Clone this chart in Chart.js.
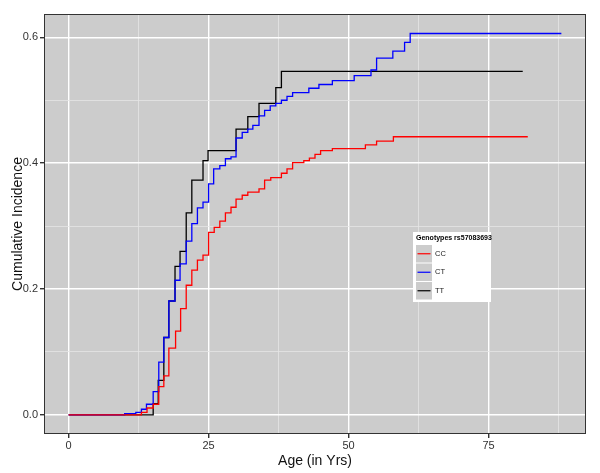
<!DOCTYPE html>
<html>
<head>
<meta charset="utf-8">
<script src="https://cdn.jsdelivr.net/npm/chart.js@4/dist/chart.umd.min.js"></script>
<style>
html, body { margin: 0; padding: 0; background: #fff; }
</style>
</head>
<body>
<canvas id="myChart" width="600" height="473"></canvas>
<script>
'use strict';

// Cumulative incidence by genotype (age, value after the step)
const ccAge = [0, 13.0, 14.0, 15.1, 16.1, 17.0, 17.9, 19.1, 20.0, 21.0, 22.0, 23.0, 24.0, 25.0, 26.0, 27.0, 28.0, 29.0, 29.9, 31.0, 32.0, 34.0, 35.0, 36.1, 38.0, 39.0, 40.0, 42.0, 43.0, 44.0, 45.0, 47.1, 53.0, 55.0, 58.0, 82.0];
const ccInc = [0, 0.004, 0.011, 0.017, 0.045, 0.062, 0.106, 0.133, 0.169, 0.206, 0.230, 0.246, 0.254, 0.290, 0.298, 0.308, 0.321, 0.330, 0.343, 0.349, 0.354, 0.359, 0.373, 0.377, 0.384, 0.391, 0.401, 0.404, 0.408, 0.414, 0.420, 0.423, 0.429, 0.435, 0.442, 0.442];

const ctAge = [0, 10.0, 12.0, 13.0, 13.9, 15.1, 16.1, 17.0, 17.9, 19.0, 19.9, 21.0, 22.0, 23.0, 24.0, 25.0, 25.9, 27.0, 28.0, 29.0, 29.9, 31.0, 32.0, 32.9, 34.0, 35.0, 36.0, 37.0, 38.0, 39.0, 40.0, 42.9, 44.7, 47.1, 51.0, 54.0, 55.0, 57.9, 60.0, 61.0, 88.0];
const ctInc = [0, 0.002, 0.004, 0.009, 0.017, 0.037, 0.084, 0.123, 0.181, 0.214, 0.240, 0.276, 0.304, 0.329, 0.338, 0.367, 0.391, 0.396, 0.407, 0.410, 0.440, 0.449, 0.454, 0.460, 0.475, 0.484, 0.491, 0.495, 0.500, 0.506, 0.512, 0.519, 0.525, 0.531, 0.539, 0.548, 0.567, 0.578, 0.592, 0.606, 0.606];

const ttAge = [0, 15.1, 16.0, 17.0, 17.9, 19.0, 19.9, 21.0, 22.0, 24.0, 24.9, 29.9, 32.0, 34.0, 37.0, 38.0, 81.1];
const ttInc = [0, 0.018, 0.055, 0.123, 0.181, 0.236, 0.260, 0.321, 0.373, 0.404, 0.420, 0.454, 0.474, 0.495, 0.520, 0.546, 0.546];

const genotypes = ['CC', 'CT', 'TT'];
const lineColors = ['#ff0000', '#0000ff', '#000000'];
const legendTitle = 'Genotypes rs57083693';

const xTicks = [0, 12.5, 25, 37.5, 50, 62.5, 75, 87.5];
const xLabels = [0, 25, 50, 75];
const yTicks = [0, 0.1, 0.2, 0.3, 0.4, 0.5, 0.6];
const yLabels = [0, 0.2, 0.4, 0.6];

function toPoints(ages, vals) {
  return ages.map((a, i) => ({ x: a, y: vals[i] }));
}

const series = [toPoints(ccAge, ccInc), toPoints(ctAge, ctInc), toPoints(ttAge, ttInc)];

const isMajorX = (v) => xLabels.includes(v);
const isMajorY = (v) => yLabels.some((l) => Math.abs(l - v) < 1e-6);

const font = '"Liberation Sans", Arial, sans-serif';

const panelBg = {
  id: 'panelBg',
  beforeDraw(chart) {
    const a = chart.chartArea;
    const ctx = chart.ctx;
    ctx.save();
    ctx.fillStyle = '#cccccc';
    ctx.fillRect(a.left, a.top, a.right - a.left, a.bottom - a.top);
    ctx.restore();
  },
  afterDatasetsDraw(chart) {
    const a = chart.chartArea;
    const ctx = chart.ctx;
    ctx.save();
    ctx.strokeStyle = '#333333';
    ctx.lineWidth = 1;
    ctx.strokeRect(a.left + 0.5, a.top + 0.5, a.right - a.left - 1, a.bottom - a.top - 1);
    ctx.restore();
  }
};

// ggplot style legend sitting inside the panel
const legendBox = {
  id: 'legendBox',
  afterDraw(chart) {
    const ctx = chart.ctx;
    ctx.save();
    ctx.fillStyle = '#ffffff';
    ctx.fillRect(413, 232, 78, 70);
    ctx.textBaseline = 'middle';
    ctx.textAlign = 'left';
    ctx.fillStyle = '#000000';
    ctx.font = 'bold 7px ' + font;
    ctx.fillText(legendTitle, 416, 238.5);
    chart.data.datasets.forEach((ds, i) => {
      let y = 245 + i * 18.5;
      ctx.fillStyle = '#cccccc';
      ctx.fillRect(416, y, 16, 17.5);
      ctx.strokeStyle = ds.borderColor;
      ctx.lineWidth = 1.2;
      ctx.beginPath();
      ctx.moveTo(417.5, y + 8.75);
      ctx.lineTo(430.5, y + 8.75);
      ctx.stroke();
      ctx.fillStyle = '#1a1a1a';
      ctx.font = '7.5px ' + font;
      ctx.fillText(ds.label, 435, y + 8.75);
    });
    ctx.restore();
  }
};

const chartData = {
  datasets: genotypes.map((g, i) => ({
    label: g,
    data: series[i],
    borderColor: lineColors[i],
    borderWidth: 1.3,
    pointRadius: 0,
    stepped: true,
    fill: false,
  })),
};

const config = {
  type: 'line',
  data: chartData,
  options: {
    responsive: false,
    animation: false,
    layout: { padding: { top: 14, right: 14, left: 0, bottom: 0 } },
    plugins: {
      legend: { display: false },
      tooltip: { enabled: false },
    },
    scales: {
      x: {
        type: 'linear',
        min: -4.4,
        max: 92.4,
        afterBuildTicks: (scale) => { scale.ticks = xTicks.map((v) => ({ value: v })); },
        afterFit: (scale) => { scale.height = 39; },
        ticks: {
          autoSkip: false,
          maxRotation: 0,
          padding: 1,
          color: '#333333',
          font: { family: font, size: 11 },
          callback: (v) => (isMajorX(v) ? String(v) : ''),
        },
        grid: {
          color: (c) => (isMajorX(c.tick.value) ? '#ffffff' : '#e4e4e4'),
          lineWidth: (c) => (isMajorX(c.tick.value) ? 1.4 : 0.8),
          tickColor: (c) => (isMajorX(c.tick.value) ? '#333333' : 'rgba(0,0,0,0)'),
          tickLength: 4,
        },
        border: { display: false },
        title: {
          display: true,
          text: 'Age (in Yrs)',
          color: '#111111',
          font: { family: font, size: 14 },
          padding: { top: 0, bottom: 3.6 },
        },
      },
      y: {
        type: 'linear',
        min: -0.0303,
        max: 0.637,
        afterBuildTicks: (scale) => { scale.ticks = yTicks.map((v) => ({ value: v })); },
        afterFit: (scale) => { scale.width = 44; },
        ticks: {
          autoSkip: false,
          padding: 2,
          color: '#333333',
          font: { family: font, size: 11 },
          callback: (v) => (isMajorY(v) ? v.toFixed(1) : ''),
        },
        grid: {
          color: (c) => (isMajorY(c.tick.value) ? '#ffffff' : '#e4e4e4'),
          lineWidth: (c) => (isMajorY(c.tick.value) ? 1.4 : 0.8),
          tickColor: (c) => (isMajorY(c.tick.value) ? '#333333' : 'rgba(0,0,0,0)'),
          tickLength: 4,
        },
        border: { display: false },
        title: {
          display: true,
          text: 'Cumulative Incidence',
          color: '#111111',
          font: { family: font, size: 14 },
          padding: { top: 9.6, bottom: 0 },
        },
      },
    },
  },
  plugins: [panelBg, legendBox],
};

let chartCanvas = document.getElementById('myChart').getContext('2d');
const myChart = new Chart(chartCanvas, config);
</script>
</body>
</html>
